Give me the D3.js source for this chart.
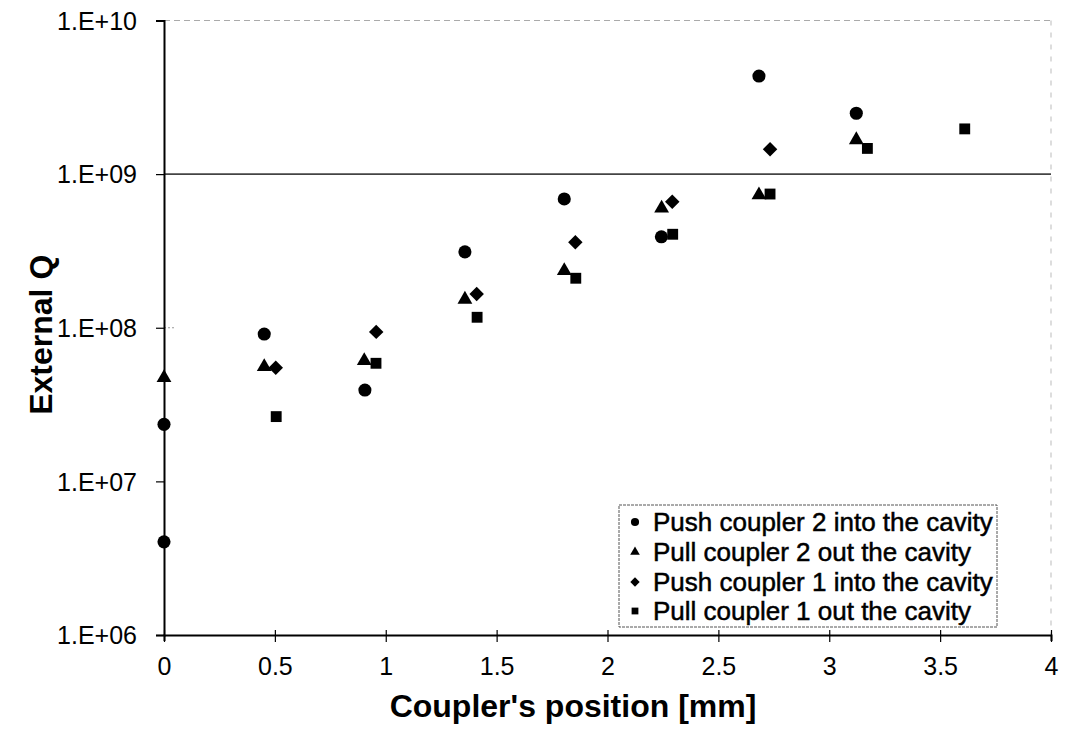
<!DOCTYPE html>
<html>
<head>
<meta charset="utf-8">
<script src="https://cdn.jsdelivr.net/npm/d3@7"></script>
<style>
  html, body { margin: 0; padding: 0; background: #fff; }
  svg { display: block; }
  text { font-family: "Liberation Sans", Arial, Helvetica, sans-serif; fill: #000; }
</style>
</head>
<body>
<svg id="chart" width="1066" height="730"></svg>
<script>
// ---- Data ----
const xTickValues = [0, 0.5, 1, 1.5, 2, 2.5, 3, 3.5, 4];
const xTickLabels = ["0", "0.5", "1", "1.5", "2", "2.5", "3", "3.5", "4"];
const yTickValues = [1e6, 1e7, 1e8, 1e9, 1e10];
const yTickLabels = ["1.E+06", "1.E+07", "1.E+08", "1.E+09", "1.E+10"];

const seriesNames = [
  "Push coupler 2 into the cavity",
  "Pull coupler 2 out the cavity",
  "Push coupler 1 into the cavity",
  "Pull coupler 1 out the cavity"
];

const pushC2X = [0, 0, 0.452, 0.906, 1.357, 1.805, 2.243, 2.683, 3.122];
const pushC2Y = [2.35e7, 4.04e6, 9.1e7, 3.93e7, 3.12e8, 6.89e8, 3.91e8, 4.35e9, 2.49e9];

const pullC2X = [0, 0.452, 0.903, 1.357, 1.805, 2.244, 2.683, 3.122];
const pullC2Y = [4.73e7, 5.57e7, 6.1e7, 1.53e8, 2.35e8, 5.99e8, 7.31e8, 1.67e9];

const pushC1X = [0.504, 0.957, 1.41, 1.855, 2.292, 2.733];
const pushC1Y = [5.5e7, 9.4e7, 1.66e8, 3.6e8, 6.61e8, 1.45e9];

const pullC1X = [0.506, 0.956, 1.412, 1.857, 2.294, 2.733, 3.172, 3.611];
const pullC1Y = [2.64e7, 5.87e7, 1.17e8, 2.1e8, 4.06e8, 7.42e8, 1.47e9, 1.97e9];

// ---- Layout ----
const L = 164, R = 1051, T = 20.5, B = 635;
const svg = d3.select("#chart");

const x = d3.scaleLinear().domain([0, 4]).range([L, R]);
const y = d3.scaleLog().domain([1e6, 1e10]).range([B, T]);

// faint frame (top / right)
svg.append("line").attr("x1", L).attr("x2", R).attr("y1", T).attr("y2", T)
  .attr("stroke", "#aaa").attr("stroke-width", 1).attr("stroke-dasharray", "6,4");
svg.append("line").attr("x1", R).attr("x2", R).attr("y1", T).attr("y2", B)
  .attr("stroke", "#bbb").attr("stroke-width", 1).attr("stroke-dasharray", "5,7");

// gridline at 1E+09
svg.append("line").attr("x1", L).attr("x2", R).attr("y1", y(1e9)).attr("y2", y(1e9))
  .attr("stroke", "#444").attr("stroke-width", 1.6);

// faint stub of the 1E+08 gridline near the axis
svg.append("line").attr("x1", L).attr("x2", L + 11).attr("y1", y(1e8)).attr("y2", y(1e8))
  .attr("stroke", "#999").attr("stroke-width", 1).attr("stroke-dasharray", "2,2");

// x axis
const xAxis = d3.axisBottom(x).tickValues(xTickValues)
  .tickFormat((d, i) => xTickLabels[i]).tickSize(6).tickPadding(0);
const gx = svg.append("g").attr("transform", `translate(0,${B})`).call(xAxis);
gx.select(".domain").attr("stroke", "#000").attr("stroke-width", 2);
gx.selectAll(".tick line").attr("stroke", "#000").attr("stroke-width", 1.2).attr("y1", -5).attr("y2", 7);
gx.selectAll(".tick text").attr("font-size", 25).attr("dy", 0).attr("y", 40)
  .style("font-family", "'Liberation Sans', Arial, sans-serif");

// y axis
const yAxis = d3.axisLeft(y).tickValues(yTickValues)
  .tickFormat((d, i) => yTickLabels[i]).tickSize(8).tickPadding(0);
const gy = svg.append("g").attr("transform", `translate(${L},0)`).call(yAxis);
gy.select(".domain").attr("stroke", "#000").attr("stroke-width", 2);
gy.selectAll(".tick line").attr("stroke", "#000").attr("stroke-width", 1.2);
gy.selectAll(".tick text").attr("font-size", 25).attr("x", -27).attr("dy", "0.35em")
  .style("font-family", "'Liberation Sans', Arial, sans-serif");

// axis titles
svg.append("text").attr("x", 573).attr("y", 717).attr("text-anchor", "middle")
  .attr("font-size", 32).attr("font-weight", "bold").text("Coupler's position [mm]");
svg.append("text").attr("transform", `translate(52,${(T + B) / 2 + 7}) rotate(-90)`)
  .attr("text-anchor", "middle").attr("font-size", 32).attr("font-weight", "bold")
  .text("External Q");

// symbols
const symCircle = d3.symbol().type(d3.symbolCircle);
const symTri = d3.symbol().type(d3.symbolTriangle);
const symSquare = d3.symbol().type(d3.symbolSquare);

const series = [
  { xs: pushC2X, ys: pushC2Y, gen: symCircle, size: 135, rot: 0, lsize: 52 },
  { xs: pullC2X, ys: pullC2Y, gen: symTri, size: 95, rot: 0, lsize: 40 },
  { xs: pushC1X, ys: pushC1Y, gen: symSquare, size: 105, rot: 45, lsize: 44 },
  { xs: pullC1X, ys: pullC1Y, gen: symSquare, size: 118, rot: 0, lsize: 46 }
];

series.forEach(s => {
  const pts = s.xs.map((v, i) => [v, s.ys[i]]);
  svg.append("g").selectAll("path").data(pts).join("path")
    .attr("d", s.gen.size(s.size)())
    .attr("transform", d => `translate(${x(d[0])},${y(d[1])}) rotate(${s.rot})`)
    .attr("fill", "#000");
});

// legend
const lg = svg.append("g");
lg.append("rect").attr("x", 619).attr("y", 505).attr("width", 378).attr("height", 122)
  .attr("fill", "#fff").attr("stroke", "#555").attr("stroke-width", 1).attr("stroke-dasharray", "3,1");
const rowY = [522, 552, 582, 611];
series.forEach((s, i) => {
  lg.append("path").attr("d", s.gen.size(s.lsize)())
    .attr("transform", `translate(635,${rowY[i]}) rotate(${s.rot})`).attr("fill", "#000");
  lg.append("text").attr("x", 653).attr("y", rowY[i]).attr("dy", "0.36em")
    .attr("font-size", 26).attr("stroke", "#000").attr("stroke-width", 0.5)
    .text(seriesNames[i]);
});
</script>
</body>
</html>
